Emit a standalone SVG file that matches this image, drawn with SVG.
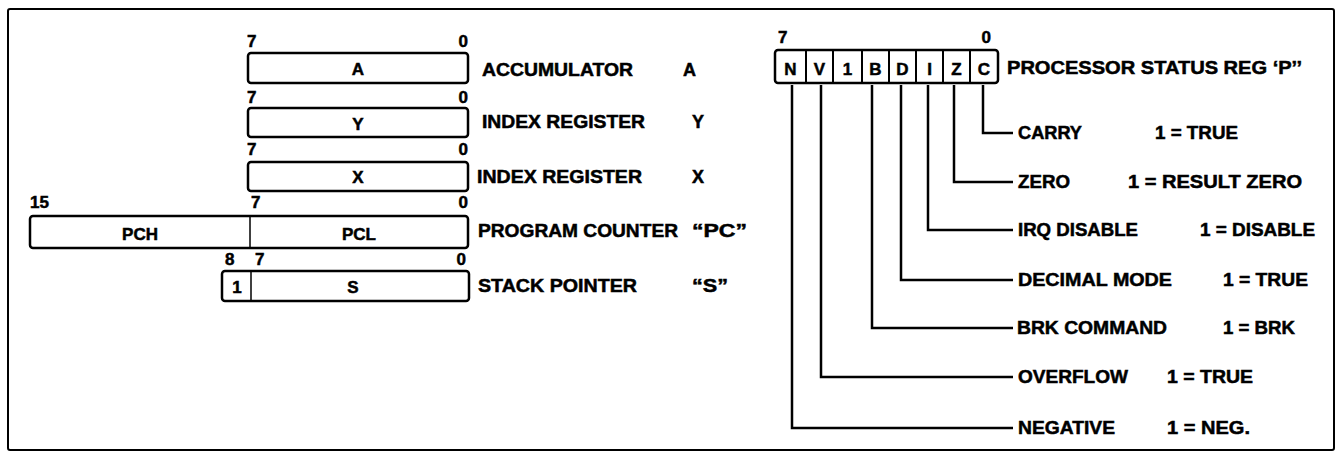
<svg xmlns="http://www.w3.org/2000/svg" width="1339" height="453" viewBox="0 0 1339 453">
<style>
text{font-family:"Liberation Sans",Arial,Helvetica,sans-serif;font-weight:bold;fill:#000;stroke:#000;stroke-width:0.5}
.lbl{font-size:18px}
.num{font-size:17px}
.reg{font-size:17px;text-anchor:middle}
.box{fill:#fff;stroke:#000;stroke-width:2.5}
.div{stroke:#000;stroke-width:1.5}
.cdiv{stroke:#000;stroke-width:2}
.con{fill:none;stroke:#000;stroke-width:2.5}
.frame{fill:#fff;stroke:#000;stroke-width:2}
</style>
<rect class="frame" x="8" y="9" width="1326" height="441" rx="2"/>

<g id="reg-a">
<text class="num" x="247" y="47">7</text>
<text class="num" x="468" y="47" text-anchor="end">0</text>
<rect class="box" x="248" y="53" width="220" height="30" rx="3"/>
<text class="reg" x="358" y="75">A</text>
<text class="lbl" x="482" y="76" textLength="151" lengthAdjust="spacingAndGlyphs">ACCUMULATOR</text>
<text class="lbl" x="683" y="76">A</text>
</g>

<g id="reg-y">
<text class="num" x="247" y="103">7</text>
<text class="num" x="468" y="103" text-anchor="end">0</text>
<rect class="box" x="248" y="108" width="220" height="29" rx="3"/>
<text class="reg" x="358" y="130">Y</text>
<text class="lbl" x="482" y="128" textLength="163" lengthAdjust="spacingAndGlyphs">INDEX REGISTER</text>
<text class="lbl" x="692" y="128">Y</text>
</g>

<g id="reg-x">
<text class="num" x="247" y="155">7</text>
<text class="num" x="468" y="155" text-anchor="end">0</text>
<rect class="box" x="248" y="162" width="220" height="29" rx="3"/>
<text class="reg" x="358" y="183">X</text>
<text class="lbl" x="477" y="183" textLength="165" lengthAdjust="spacingAndGlyphs">INDEX REGISTER</text>
<text class="lbl" x="692" y="183">X</text>
</g>

<g id="reg-pc">
<text class="num" x="30" y="208">15</text>
<text class="num" x="251" y="208">7</text>
<text class="num" x="468" y="208" text-anchor="end">0</text>
<rect class="box" x="30" y="216" width="438" height="32" rx="3"/>
<line class="div" x1="250" y1="216" x2="250" y2="248"/>
<text class="reg" x="140" y="240">PCH</text>
<text class="reg" x="359" y="240">PCL</text>
<text class="lbl" x="478" y="237" textLength="200" lengthAdjust="spacingAndGlyphs">PROGRAM COUNTER</text>
<text class="lbl" x="692" y="237" textLength="55" lengthAdjust="spacingAndGlyphs">“PC”</text>
</g>

<g id="reg-s">
<text class="num" x="225" y="265">8</text>
<text class="num" x="255" y="265">7</text>
<text class="num" x="466" y="265" text-anchor="end">0</text>
<rect class="box" x="222" y="271" width="247" height="30" rx="3"/>
<line class="div" x1="251" y1="271" x2="251" y2="301"/>
<text class="reg" x="237" y="293">1</text>
<text class="reg" x="353" y="293">S</text>
<text class="lbl" x="478" y="292" textLength="159" lengthAdjust="spacingAndGlyphs">STACK POINTER</text>
<text class="lbl" x="692" y="292" textLength="36" lengthAdjust="spacingAndGlyphs">“S”</text>
</g>

<g id="reg-p">
<text class="num" x="778" y="43">7</text>
<text class="num" x="991" y="43" text-anchor="end">0</text>
<rect class="box" x="775" y="50" width="223" height="33" rx="3"/>
<line class="cdiv" x1="806" y1="50" x2="806" y2="83"/>
<line class="cdiv" x1="833" y1="50" x2="833" y2="83"/>
<line class="cdiv" x1="862" y1="50" x2="862" y2="83"/>
<line class="cdiv" x1="889" y1="50" x2="889" y2="83"/>
<line class="cdiv" x1="916" y1="50" x2="916" y2="83"/>
<line class="cdiv" x1="943" y1="50" x2="943" y2="83"/>
<line class="cdiv" x1="970" y1="50" x2="970" y2="83"/>
<text class="reg" x="790.5" y="75">N</text>
<text class="reg" x="819.5" y="75">V</text>
<text class="reg" x="847.5" y="75">1</text>
<text class="reg" x="875.5" y="75">B</text>
<text class="reg" x="902.5" y="75">D</text>
<text class="reg" x="929.5" y="75">I</text>
<text class="reg" x="956.5" y="75">Z</text>
<text class="reg" x="984" y="75">C</text>
<text class="lbl" x="1007" y="74" textLength="295" lengthAdjust="spacingAndGlyphs">PROCESSOR STATUS REG ‘P’’</text>
</g>

<g id="connectors">
<polyline class="con" points="983,85 983,133 1013,133"/>
<polyline class="con" points="954,85 954,182 1013,182"/>
<polyline class="con" points="928,85 928,230 1013,230"/>
<polyline class="con" points="901,85 901,280 1013,280"/>
<polyline class="con" points="872,85 872,328 1013,328"/>
<polyline class="con" points="821,85 821,377 1013,377"/>
<polyline class="con" points="792,85 792,428 1013,428"/>
</g>

<g id="flag-c">
<text class="lbl" x="1018" y="139" textLength="64" lengthAdjust="spacingAndGlyphs">CARRY</text>
<text class="lbl" x="1155" y="139" textLength="83" lengthAdjust="spacingAndGlyphs">1 = TRUE</text>
</g>
<g id="flag-z">
<text class="lbl" x="1018" y="188" textLength="52" lengthAdjust="spacingAndGlyphs">ZERO</text>
<text class="lbl" x="1128" y="188" textLength="174" lengthAdjust="spacingAndGlyphs">1 = RESULT ZERO</text>
</g>
<g id="flag-i">
<text class="lbl" x="1018" y="236" textLength="120" lengthAdjust="spacingAndGlyphs">IRQ DISABLE</text>
<text class="lbl" x="1200" y="236" textLength="115" lengthAdjust="spacingAndGlyphs">1 = DISABLE</text>
</g>
<g id="flag-d">
<text class="lbl" x="1018" y="286" textLength="154" lengthAdjust="spacingAndGlyphs">DECIMAL MODE</text>
<text class="lbl" x="1223" y="286" textLength="85" lengthAdjust="spacingAndGlyphs">1 = TRUE</text>
</g>
<g id="flag-b">
<text class="lbl" x="1017" y="334" textLength="150" lengthAdjust="spacingAndGlyphs">BRK COMMAND</text>
<text class="lbl" x="1223" y="334" textLength="72" lengthAdjust="spacingAndGlyphs">1 = BRK</text>
</g>
<g id="flag-v">
<text class="lbl" x="1018" y="383" textLength="110" lengthAdjust="spacingAndGlyphs">OVERFLOW</text>
<text class="lbl" x="1167" y="383" textLength="86" lengthAdjust="spacingAndGlyphs">1 = TRUE</text>
</g>
<g id="flag-n">
<text class="lbl" x="1018" y="434" textLength="97" lengthAdjust="spacingAndGlyphs">NEGATIVE</text>
<text class="lbl" x="1167" y="434" textLength="83" lengthAdjust="spacingAndGlyphs">1 = NEG.</text>
</g>
</svg>
